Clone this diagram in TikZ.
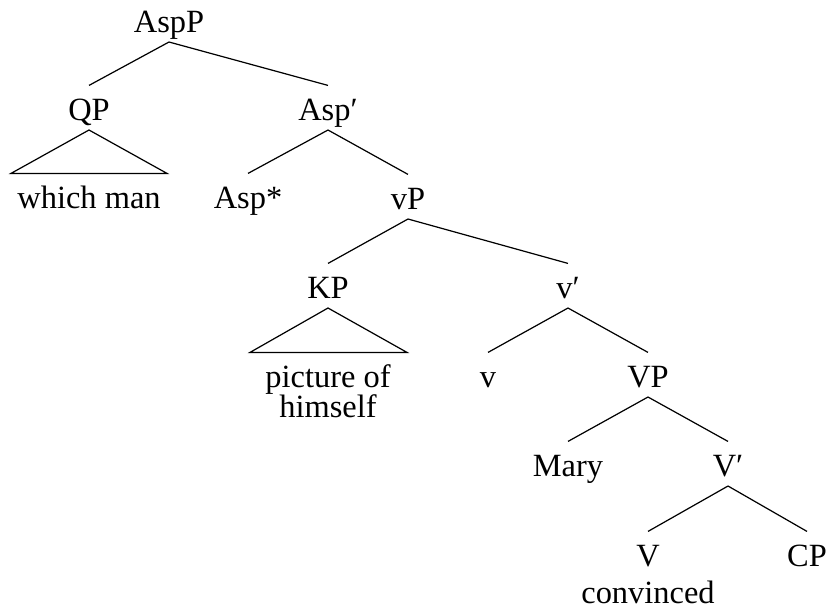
\documentclass[tikz,border=0pt]{standalone}
\usepackage{fontspec}
\setmainfont{Liberation Serif}
\usetikzlibrary{calc}
\begin{document}
\begin{tikzpicture}[x=0.37pt,y=-0.37pt,
  lbl/.style={inner sep=0pt,text height=12.6pt,text depth=3.5pt,anchor=base,font=\fontsize{12}{14.4}\selectfont},
  edge/.style={line width=0.45pt}]
\useasboundingbox (0,0) rectangle (827,608);
\node[lbl] (AspP) at (169,32) {AspP};
\node[lbl] (QP) at (89,120) {QP};
\node[lbl] (Aspb) at (328,120) {Asp′};
\node[lbl] (wm) at (89,208) {which man};
\node[lbl] (Asps) at (248,208) {Asp*};
\node[lbl] (vP) at (408,209) {vP};
\node[lbl] (KP) at (328,298) {KP};
\node[lbl] (vb) at (568,298) {v′};
\node[lbl] (pic) at (328,387) {picture of};
\node[lbl] (him) at (328,417) {himself};
\node[lbl] (v) at (488,387) {v};
\node[lbl] (VP) at (648,387) {VP};
\node[lbl] (Mary) at (568,476) {Mary};
\node[lbl] (Vb) at (728,476) {V′};
\node[lbl] (V) at (648,566) {V};
\node[lbl] (CP) at (807,566) {CP};
\node[lbl] (conv) at (648,603) {convinced};
\draw[edge] (AspP.south) -- (QP.north);
\draw[edge] (AspP.south) -- (Aspb.north);
\draw[edge] (QP.south) -- ($(wm.north)+(-78,0)$) -- ($(wm.north)+(78,0)$) -- cycle;
\draw[edge] (Aspb.south) -- (Asps.north);
\draw[edge] (Aspb.south) -- (vP.north);
\draw[edge] (vP.south) -- (KP.north);
\draw[edge] (vP.south) -- (vb.north);
\draw[edge] (KP.south) -- ($(pic.north)+(-78,0)$) -- ($(pic.north)+(79,0)$) -- cycle;
\draw[edge] (vb.south) -- (v.north);
\draw[edge] (vb.south) -- (VP.north);
\draw[edge] (VP.south) -- (Mary.north);
\draw[edge] (VP.south) -- (Vb.north);
\draw[edge] (Vb.south) -- (V.north);
\draw[edge] (Vb.south) -- (CP.north);
\end{tikzpicture}
\end{document}
